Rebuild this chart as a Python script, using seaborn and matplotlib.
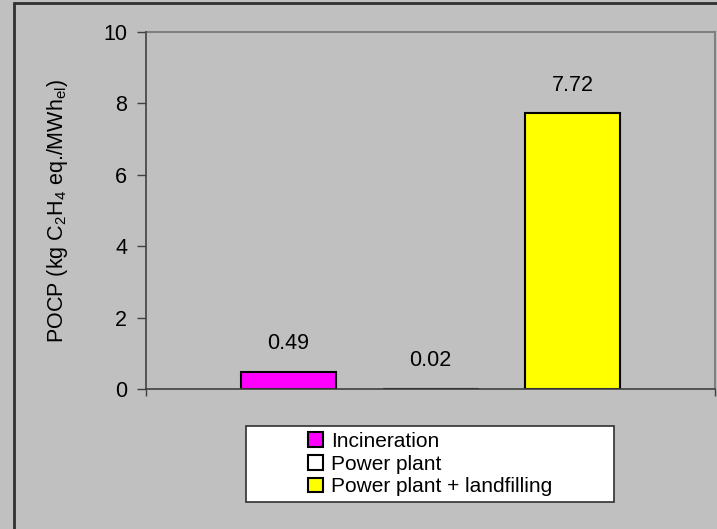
import matplotlib
matplotlib.use("Agg")
import matplotlib.pyplot as plt
import seaborn as sns
import pandas as pd
from matplotlib.patches import Patch, Rectangle

series = ["Incineration", "Power plant", "Power plant + landfilling"]
values = [0.49, 0.02, 7.72]
value_labels = ["0.49", "0.02", "7.72"]
colors = ["#FF00FF", "#FFFFFF", "#FFFF00"]
y_ticks = [0, 2, 4, 6, 8, 10]

sns.set_theme(style="white")
plt.rcParams["font.family"] = ["Liberation Sans", "DejaVu Sans"]
plt.rcParams["mathtext.fontset"] = "custom"
plt.rcParams["mathtext.rm"] = "Liberation Sans"
plt.rcParams["mathtext.it"] = "Liberation Sans"
plt.rcParams["text.color"] = "black"
plt.rcParams["axes.labelcolor"] = "black"
plt.rcParams["xtick.color"] = "black"
plt.rcParams["ytick.color"] = "black"

W, H = 717, 529
fig = plt.figure(figsize=(W / 100, H / 100), dpi=100)
fig.patch.set_facecolor("#C0C0C0")
ax = fig.add_axes([146 / W, 1 - 389 / H, (715 - 146) / W, (389 - 32) / H])
ax.set_facecolor("#C0C0C0")

df = pd.DataFrame({"cat": [""] * 3, "series": series, "value": values})
sns.barplot(data=df, x="cat", y="value", hue="series", hue_order=series,
            palette=colors, width=0.75, gap=0.333, edgecolor="black",
            linewidth=1.5, saturation=1, legend=False, ax=ax, errorbar=None)

# data labels
for p, lab in zip(ax.patches, value_labels):
    cx = p.get_x() + p.get_width() / 2
    if p.get_height() < 0.1:
        p.set_linewidth(0.8)
    ax.annotate(lab, (cx, p.get_height()), xytext=(0, 20), textcoords="offset points",
                ha="center", va="center", fontsize=15.5, color="black")

ax.set_xlim(-0.5, 0.5)
ax.set_ylim(0, 10)
ax.set_yticks(y_ticks)
ax.set_yticklabels([str(t) for t in y_ticks], fontsize=15.5, color="black")
ax.set_xticks([-0.5, 0.5])
ax.set_xticklabels(["", ""])
ax.set_xlabel("")
ax.tick_params(axis="y", direction="out", length=6.5, width=1, color="#404040", pad=7, left=True)
ax.tick_params(axis="x", direction="out", length=5, width=1, color="#404040", bottom=True)

for s in ["top", "right"]:
    ax.spines[s].set_color("#808080")
    ax.spines[s].set_linewidth(1.5)
for s in ["left", "bottom"]:
    ax.spines[s].set_color("#404040")
    ax.spines[s].set_linewidth(1.2)
    ax.spines[s].set_zorder(5)

ax.set_ylabel(r"POCP (kg C$_2$H$_4$ eq./MWh$_{el}$)", fontsize=15.5, color="black")
ax.yaxis.set_label_coords((70 - 146) / (715 - 146), 0.5)

# outer frame
fig.patches.append(Rectangle((14 / W, -0.01), 1.1, 1 - 3 / H + 0.01, transform=fig.transFigure,
                             fill=False, edgecolor="#303030", linewidth=2))

# legend box
fig.patches.append(Rectangle((246 / W, 1 - 502 / H), (614 - 246) / W, (502 - 426) / H,
                             transform=fig.transFigure, facecolor="white",
                             edgecolor="#303030", linewidth=1.2, zorder=2))
handles = [Patch(facecolor=c, edgecolor="black", linewidth=1.5) for c in colors]
leg = fig.legend(handles, series, loc="upper left", bbox_to_anchor=(308 / W, 1 - 432 / H),
                 frameon=False, fontsize=15, handlelength=0.7, handleheight=0.7,
                 handletextpad=0.4, labelspacing=0.17, borderpad=0, borderaxespad=0)
leg.set_zorder(3)
for t in leg.get_texts():
    t.set_color("black")

fig.savefig("out.png", dpi=100, facecolor=fig.get_facecolor())
